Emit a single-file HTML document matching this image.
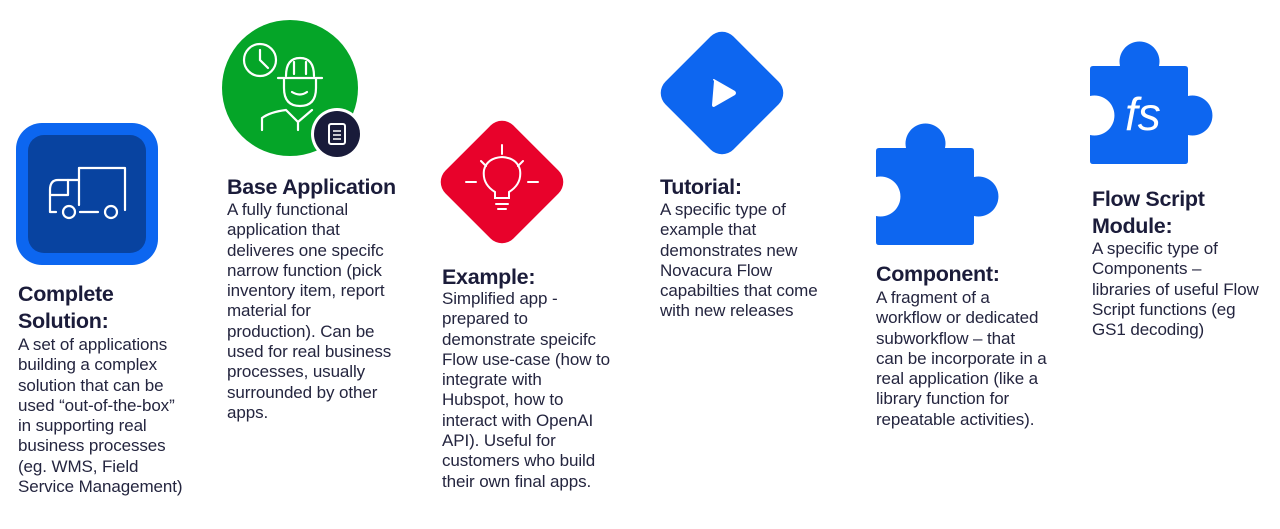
<!DOCTYPE html>
<html><head><meta charset="utf-8"><style>
body{margin:0;width:1280px;height:529px;background:#fff;position:relative;overflow:hidden;font-family:"Liberation Sans",sans-serif;color:#1b1c3a}
.t{position:absolute;font-weight:bold;font-size:21.5px;line-height:27px;letter-spacing:-0.3px;white-space:nowrap}
.b{position:absolute;font-size:17px;line-height:20.3px;letter-spacing:-0.1px;white-space:nowrap;color:#24253f}
svg{position:absolute;left:0;top:0}
</style></head><body>
<svg width="1280" height="529" viewBox="0 0 1280 529">
 <rect x="16" y="123" width="142" height="142" rx="26" fill="#0c66f0"/>
 <rect x="28" y="135" width="118" height="118" rx="16" fill="#0843a0"/>
 <g fill="none" stroke="#fff" stroke-width="2.2" stroke-linejoin="round" stroke-linecap="round">
  <path d="M79 168 H125 V205"/><path d="M79 205 V168"/>
  <path d="M79 180 H58 Q50 180 50 190 V212 H56"/>
  <path d="M50 195 H68 V180"/>
  <circle cx="69" cy="212" r="6"/><circle cx="111" cy="212" r="6"/>
  <path d="M80 212 H98"/><path d="M125 205 V210"/>
 </g>
 <circle cx="290" cy="88" r="68" fill="#05a528"/>
 <g fill="none" stroke="#fff" stroke-width="2.2" stroke-linecap="round">
  <circle cx="260" cy="60" r="16"/><path d="M260 50 V60 L268 68"/>
  <path d="M286 76 Q286 58 300 58 Q314 58 314 76"/><path d="M278 78 H322"/>
  <path d="M284 78 V88 Q284 106 300 106 Q316 106 316 88 V78"/>
  <path d="M292 92 Q300 97 307 92"/>
  <path d="M262 130 V118 Q270 112 286 110 L298 122 L312 110"/><path d="M298 122 V130"/>
  <path d="M294 62 V74 M306 62 V74"/>
 </g>
 <circle cx="337" cy="134" r="26" fill="#fff"/>
 <circle cx="337" cy="134" r="23" fill="#191b3a"/>
 <rect x="329" y="124" width="16" height="20" rx="2" fill="none" stroke="#fff" stroke-width="2"/>
 <path d="M333 131 H341 M333 135 H341 M333 139 H341" stroke="#fff" stroke-width="1.6"/>
 <rect x="454" y="134" width="96" height="96" rx="16" fill="#e8022b" transform="rotate(45 502 182)"/>
 <g fill="none" stroke="#fff" stroke-width="2" stroke-linecap="round">
  <path d="M495 198 V192 Q482 184 484 170 Q487 158 502 157 Q517 158 520 170 Q522 184 509 192 V198 Z"/>
  <path d="M496 204 H508 M498 209 H506"/>
  <path d="M502 145 V154 M476 182 H466 M528 182 H538 M481 161 L486 166 M523 161 L518 166"/>
 </g>
 <rect x="674" y="45" width="96" height="96" rx="16" fill="#0d66f0" transform="rotate(45 722 93)"/>
 <path d="M714 81 Q712 79 714 79 L735 91 Q737 93 735 95 L714 107 Q712 107 712 105 Z" fill="#fff"/>
 <path d="M879 148 H906 A20 20 0 1 1 945 148 H971 Q974 148 974 151 V177 A20 20 0 1 1 974 216 V242 Q974 245 971 245 H879 Q876 245 876 242 V216 A20 20 0 1 0 876 177 V151 Q876 148 879 148 Z" fill="#0d66f0"/>
 <path d="M1093 66 H1120 A20 20 0 1 1 1159 66 H1185 Q1188 66 1188 69 V96 A20 20 0 1 1 1188 135 V161 Q1188 164 1185 164 H1093 Q1090 164 1090 161 V135 A20 20 0 1 0 1090 96 V69 Q1090 66 1093 66 Z" fill="#0d66f0"/>
 <text x="1125" y="130" font-family="Liberation Sans, sans-serif" font-style="italic" font-size="46" fill="#fff">fs</text>
</svg>

<div class="t" style="left:18px;top:281px">Complete<br>Solution:</div>
<div class="b" style="left:18px;top:335px">A set of applications<br>building a complex<br>solution that can be<br>used “out-of-the-box”<br>in supporting real<br>business processes<br>(eg. WMS, Field<br>Service Management)</div>

<div class="t" style="left:227px;top:174px">Base Application</div>
<div class="b" style="left:227px;top:200px">A fully functional<br>application that<br>deliveres one specifc<br>narrow function (pick<br>inventory item, report<br>material for<br>production). Can be<br>used for real business<br>processes, usually<br>surrounded by other<br>apps.</div>

<div class="t" style="left:442px;top:264px">Example:</div>
<div class="b" style="left:442px;top:289px">Simplified app -<br>prepared to<br>demonstrate speicifc<br>Flow use-case (how to<br>integrate with<br>Hubspot, how to<br>interact with OpenAI<br>API). Useful for<br>customers who build<br>their own final apps.</div>

<div class="t" style="left:660px;top:174px">Tutorial:</div>
<div class="b" style="left:660px;top:200px">A specific type of<br>example that<br>demonstrates new<br>Novacura Flow<br>capabilties that come<br>with new releases</div>

<div class="t" style="left:876px;top:261px">Component:</div>
<div class="b" style="left:876px;top:288px">A fragment of a<br>workflow or dedicated<br>subworkflow – that<br>can be incorporate in a<br>real application (like a<br>library function for<br>repeatable activities).</div>

<div class="t" style="left:1092px;top:186px">Flow Script<br>Module:</div>
<div class="b" style="left:1092px;top:239px">A specific type of<br>Components –<br>libraries of useful Flow<br>Script functions (eg<br>GS1 decoding)</div>
</body></html>
